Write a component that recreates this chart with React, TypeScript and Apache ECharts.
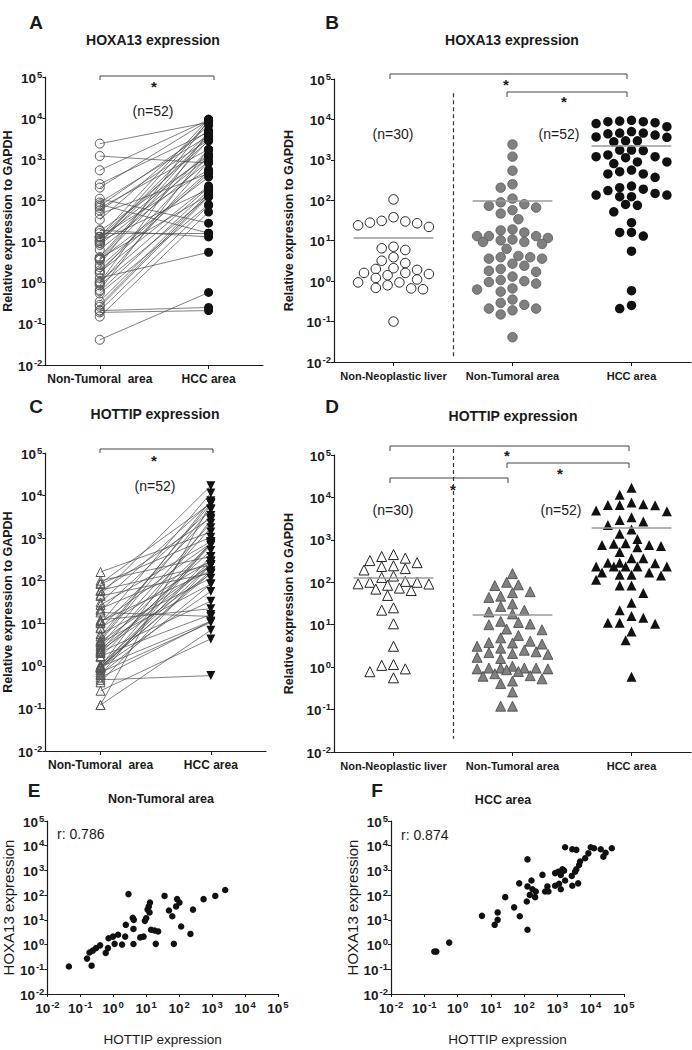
import React, { useEffect, useRef } from "react";
import * as echarts from "echarts";

// ---------------- data ----------------
const pairedCategories = ["Non-Tumoral  area", "HCC area"];
const tissueCategories = ["Non-Neoplastic liver", "Non-Tumoral area", "HCC area"];

// HOXA13 relative expression
const hoxaNonNeoplastic = [105, 31, 28, 24, 22, 27, 30, 38, 6.5, 7.1, 5.9, 3.9, 3.2, 2.8, 2.0, 1.6, 1.2, 1.5, 1.4, 1.6, 1.9, 2.1, 0.93, 0.79, 0.66, 0.63, 0.68, 0.93, 1.1, 0.1];
// paired: hoxaNonTumoral[i] <-> hoxaHcc[i]
const hoxaNonTumoral = [2400, 1200, 540, 250, 205, 110, 89, 80, 73, 66, 57, 47, 34, 19, 18, 16, 13, 13, 13, 11.7, 10.7, 10.2, 9.3, 9.3, 8.3, 6.3, 4.2, 3.9, 3.9, 3.6, 3.6, 2.7, 2.4, 2.0, 1.8, 1.7, 1.3, 1.06, 1.0, 0.95, 0.87, 0.66, 0.62, 0.55, 0.35, 0.29, 0.26, 0.21, 0.21, 0.19, 0.15, 0.041];
const hoxaHcc = [7900, 810, 9100, 4600, 8800, 28, 3700, 16, 5000, 1750, 2950, 450, 6600, 13, 1200, 16, 9500, 560, 2800, 1320, 4400, 188, 8300, 3600, 1130, 890, 4100, 2950, 135, 1700, 370, 8800, 510, 450, 225, 1200, 5.5, 205, 4600, 890, 123, 1750, 174, 79, 148, 135, 123, 75, 0.25, 0.21, 52, 0.58];
const hoxaMeans = [12, 100, 2200];

// HOTTIP relative expression
const hottipNonNeoplastic = [450, 370, 290, 235, 245, 325, 405, 195, 130, 210, 140, 92, 85, 100, 100, 105, 91, 69, 64, 73, 49, 25, 22, 10.5, 3.1, 1.15, 0.91, 0.56, 0.78, 1.1];
// paired: hottipNonTumoral[i] <-> hottipHcc[i]
const hottipNonTumoral = [160, 87, 84, 100, 47, 60, 57, 44, 31, 22, 27, 18, 20, 10, 11.3, 10.4, 12, 7.6, 7.9, 4.9, 5.6, 2.8, 3.7, 4.1, 3.5, 3.1, 2.3, 2.0, 2.1, 2.2, 2.5, 1.6, 1.7, 3.8, 1.05, 0.95, 0.95, 0.87, 0.95, 0.91, 0.95, 0.91, 0.7, 0.61, 0.63, 0.79, 0.47, 0.41, 0.53, 0.26, 0.12, 0.12];
const hottipHcc = [1400, 6600, 1050, 370, 17000, 235, 2950, 150, 6900, 280, 830, 14.5, 4700, 11500, 170, 760, 22, 3400, 290, 6500, 115, 720, 235, 7600, 84, 2250, 145, 515, 33, 1750, 235, 670, 16, 4900, 290, 150, 11.2, 810, 235, 56, 2700, 170, 10.5, 760, 84, 370, 0.59, 235, 11.2, 4.3, 6.9, 6600];
const hottipMeans = [130, 17, 1900];

// Correlation scatter: Non-Tumoral area
const ntScatterHottip = [0.045, 0.16, 0.22, 0.19, 0.24, 0.3, 0.4, 0.59, 0.69, 0.72, 0.98, 1.1, 1.4, 1.85, 2.3, 2.4, 2.9, 3.9, 4.2, 4.1, 4.1, 6.6, 8.3, 9.1, 10, 11, 12, 13, 12.6, 14, 18, 23, 19.5, 36, 49, 62, 69, 81, 87, 102, 115, 220, 263, 550, 1250, 2500];
const ntScatterHoxa = [0.13, 0.27, 0.14, 0.48, 0.57, 0.72, 0.93, 0.46, 0.72, 1.8, 2.1, 1.07, 2.5, 1.0, 2.1, 6.3, 110, 12, 10, 4.3, 1.05, 1.95, 2.1, 9.1, 11.7, 26, 35, 50, 20, 4.0, 3.7, 3.4, 1.07, 93, 24, 14, 1.07, 35, 69, 50, 5.4, 2.7, 26, 69, 93, 162];
// Correlation scatter: HCC area
const hccScatterHottip = [0.2, 0.23, 0.56, 5.4, 13, 16, 16, 27, 50, 71, 74, 120, 126, 126, 126, 148, 178, 166, 214, 224, 355, 427, 500, 537, 851, 1070, 851, 1120, 1260, 1260, 1410, 1700, 1700, 1580, 2700, 2800, 2800, 3700, 3400, 3700, 4200, 4470, 4790, 6800, 8500, 10000, 12600, 20000, 24000, 28000, 43000];
const hccScatterHoxa = [0.52, 0.52, 1.2, 14.5, 6.3, 10, 20, 83, 32, 300, 14, 55, 4.0, 2800, 225, 102, 174, 390, 83, 141, 660, 141, 225, 141, 780, 890, 240, 290, 174, 660, 1120, 390, 8700, 980, 600, 240, 7200, 6800, 890, 1120, 300, 1660, 2300, 3100, 4900, 8700, 7900, 7200, 3600, 5200, 7900];

const correlationLabels = ["r: 0.786", "r: 0.874"];
const sampleLabels = ["(n=30)", "(n=52)"];

// ---------------- layout ----------------
const font = "Liberation Sans, Arial, Helvetica, sans-serif";
const ink = "#1a1a1a";
const G = {
  A: { left: 45, top: 77, width: 218, height: 288 },
  B: { left: 334, top: 79, width: 357, height: 283 },
  C: { left: 45, top: 453, width: 221, height: 298 },
  D: { left: 334, top: 455, width: 357, height: 297 },
  E: { left: 46, top: 821, width: 232, height: 173 },
  F: { left: 391, top: 821, width: 233, height: 173 },
};
const sepB = { top: 4.65, bottom: -1.88 };
const sepD = { top: 5.14, bottom: -1.69 };

const lg = (v: number) => Math.log10(v);

// beeswarm: spread points of one group sideways so that they do not overlap
function swarm(values: number[], cat: number, g: { width: number; height: number }, step: number, minD: number, maxSteps: number) {
  const pxY = g.height / 7;
  const pxX = g.width / 3;
  const order = values.map((_, i) => i).sort((a, b) => values[b] - values[a]);
  const placed: [number, number][] = [];
  const res: number[][] = new Array(values.length);
  const cands: number[] = [0];
  for (let k = 1; k <= maxSteps * 2; k++) {
    cands.push(-k * 0.5, k * 0.5);
  }
  for (const i of order) {
    const y = lg(values[i]) * pxY;
    let chosen = 0;
    let best = -1;
    let found = false;
    for (const o of cands) {
      const ox = o * step;
      let md = Infinity;
      for (const [px, py] of placed) md = Math.min(md, Math.hypot(px - ox, py - y));
      if (md >= minD) {
        chosen = ox;
        found = true;
        break;
      }
      if (md > best) {
        best = md;
        chosen = ox;
      }
    }
    void found;
    placed.push([chosen, y]);
    res[i] = [cat + chosen / pxX, lg(values[i])];
  }
  return res;
}

const rich = {
  b: { fontSize: 13.5, fontWeight: "bold", fontFamily: font, color: ink, lineHeight: 16, verticalAlign: "bottom" },
  s: { fontSize: 9.5, fontWeight: "bold", fontFamily: font, color: ink, lineHeight: 10, verticalAlign: "top", padding: [0, 0, 0, 1] },
};
const powLabel = (v: number) => `{b|10}{s|${v}}`;

function yAxis(gridIndex: number, name: string, nameGap: number, nameStyle: any) {
  return {
    type: "value",
    gridIndex,
    min: -2,
    max: 5,
    interval: 1,
    axisLine: { show: true, onZero: false, lineStyle: { color: ink, width: 1.2 } },
    axisTick: { show: true, length: 3, lineStyle: { color: ink } },
    splitLine: { show: false },
    axisLabel: { margin: 3, formatter: powLabel, rich },
    name,
    nameLocation: "middle",
    nameGap,
    nameTextStyle: { fontFamily: font, color: ink, ...nameStyle },
  };
}

function catAxis(gridIndex: number, data: string[], fontSize: number) {
  return {
    type: "category",
    gridIndex,
    data,
    position: "bottom",
    boundaryGap: true,
    axisLine: { show: true, onZero: false, lineStyle: { color: ink, width: 1.2 } },
    axisTick: { show: true, alignWithLabel: true, length: 4, lineStyle: { color: ink } },
    splitLine: { show: false },
    axisLabel: { interval: 0, margin: 8, fontSize, fontWeight: "bold", fontFamily: font, color: ink },
  };
}

function logXAxis(gridIndex: number) {
  return {
    type: "value",
    gridIndex,
    min: -2,
    max: 5,
    interval: 1,
    axisLine: { show: true, onZero: false, lineStyle: { color: ink, width: 1.2 } },
    axisTick: { show: true, length: 3, lineStyle: { color: ink } },
    splitLine: { show: false },
    axisLabel: { margin: 5, formatter: powLabel, rich },
    name: "HOTTIP expression",
    nameLocation: "middle",
    nameGap: 38,
    nameTextStyle: { fontFamily: font, color: ink, fontSize: 13.5 },
  };
}

const hiddenX = (gridIndex: number) => ({ type: "value", gridIndex, min: -0.5, max: 2.5, show: false });

function pairLines(a: number[], b: number[]) {
  return a.map((v, i) => ({ coords: [[0, lg(v)], [1, lg(b[i])]] }));
}
function meanLines(m: number[]) {
  return m.map((v, i) => ({ coords: [[i - 0.335, lg(v)], [i + 0.335, lg(v)]] }));
}

function txt(text: string, x: number, y: number, size: number, weight: string, align = "center") {
  return {
    type: "text",
    x,
    y,
    silent: true,
    style: {
      text,
      fontSize: size,
      fontWeight: weight,
      fontFamily: font,
      fill: ink,
      align,
      textAlign: align,
      verticalAlign: "middle",
      textVerticalAlign: "middle",
    },
  };
}
function bracket(x1: number, x2: number, y: number, drop = 5) {
  return {
    type: "polyline",
    silent: true,
    shape: { points: [[x1, y + drop], [x1, y], [x2, y], [x2, y + drop]] },
    style: { stroke: "#444", lineWidth: 1, fill: null },
  };
}
const star = (x: number, y: number) => txt("*", x, y + 3, 15, "bold");

export default function App() {
  const ref = useRef<HTMLDivElement>(null);
  useEffect(() => {
    if (!ref.current) return;
    const chart = echarts.init(ref.current, undefined, { renderer: "svg" });

    const yName = "Relative expression to GAPDH";
    const yNameStyle = { fontSize: 12.5, fontWeight: "bold" };
    const solid = (c: string, extra: any = {}) => ({ color: c, opacity: 1, ...extra });

    const option: any = {
      animation: false,
      backgroundColor: "#ffffff",
      textStyle: { fontFamily: font },
      grid: [G.A, G.B, G.C, G.D, G.E, G.F].map((g) => ({ ...g, containLabel: false })),
      xAxis: [
        catAxis(0, pairedCategories, 12),
        catAxis(1, tissueCategories, 11),
        hiddenX(1),
        catAxis(2, pairedCategories, 12),
        catAxis(3, tissueCategories, 11),
        hiddenX(3),
        logXAxis(4),
        logXAxis(5),
      ],
      yAxis: [
        yAxis(0, yName, 27, yNameStyle),
        yAxis(1, yName, 27, yNameStyle),
        yAxis(2, yName, 27, yNameStyle),
        yAxis(3, yName, 27, yNameStyle),
        yAxis(4, "HOXA13 expression", 28, { fontSize: 15 }),
        yAxis(5, "HOXA13 expression", 28, { fontSize: 15 }),
      ],
      series: [
        // ---- A ----
        {
          type: "lines", coordinateSystem: "cartesian2d", xAxisIndex: 0, yAxisIndex: 0, silent: true, z: 2,
          data: pairLines(hoxaNonTumoral, hoxaHcc),
          lineStyle: { color: "#4a4a4a", width: 0.7, opacity: 1 },
        },
        {
          type: "scatter", xAxisIndex: 0, yAxisIndex: 0, z: 3, symbol: "circle", symbolSize: 9,
          data: hoxaNonTumoral.map((v) => [0, lg(v)]),
          itemStyle: solid("rgba(255,255,255,0)", { borderColor: "#555", borderWidth: 1 }),
        },
        {
          type: "scatter", xAxisIndex: 0, yAxisIndex: 0, z: 3, symbol: "circle", symbolSize: 9,
          data: hoxaHcc.map((v) => [1, lg(v)]),
          itemStyle: solid("#111"),
        },
        // ---- B ----
        {
          type: "lines", coordinateSystem: "cartesian2d", xAxisIndex: 2, yAxisIndex: 1, silent: true, clip: false, z: 2,
          data: [{ coords: [[0.5, sepB.top], [0.5, sepB.bottom]] }],
          lineStyle: { color: "#333", width: 1.2, type: [4, 3], opacity: 1 },
        },
        {
          type: "scatter", xAxisIndex: 2, yAxisIndex: 1, z: 3, symbol: "circle", symbolSize: 9.5,
          data: swarm(hoxaNonNeoplastic, 0, G.B, 11.8, 9.6, 3),
          itemStyle: solid("#fff", { borderColor: "#222", borderWidth: 1 }),
        },
        {
          type: "scatter", xAxisIndex: 2, yAxisIndex: 1, z: 3, symbol: "circle", symbolSize: 9.5,
          data: swarm(hoxaNonTumoral, 1, G.B, 11.8, 9.6, 3),
          itemStyle: solid("#808080", { borderColor: "#555", borderWidth: 0.8 }),
        },
        {
          type: "scatter", xAxisIndex: 2, yAxisIndex: 1, z: 3, symbol: "circle", symbolSize: 9.5,
          data: swarm(hoxaHcc, 2, G.B, 11.8, 9.6, 3),
          itemStyle: solid("#111"),
        },
        {
          type: "lines", coordinateSystem: "cartesian2d", xAxisIndex: 2, yAxisIndex: 1, silent: true, z: 4,
          data: meanLines(hoxaMeans),
          lineStyle: { color: "#9a9a9a", width: 1.5, opacity: 1 },
        },
        // ---- C ----
        {
          type: "lines", coordinateSystem: "cartesian2d", xAxisIndex: 3, yAxisIndex: 2, silent: true, z: 2,
          data: pairLines(hottipNonTumoral, hottipHcc),
          lineStyle: { color: "#4a4a4a", width: 0.7, opacity: 1 },
        },
        {
          type: "scatter", xAxisIndex: 3, yAxisIndex: 2, z: 3, symbol: "triangle", symbolSize: 9,
          data: hottipNonTumoral.map((v) => [0, lg(v)]),
          itemStyle: solid("rgba(255,255,255,0)", { borderColor: "#555", borderWidth: 1 }),
        },
        {
          type: "scatter", xAxisIndex: 3, yAxisIndex: 2, z: 3, symbol: "triangle", symbolRotate: 180, symbolSize: 9,
          data: hottipHcc.map((v) => [1, lg(v)]),
          itemStyle: solid("#111"),
        },
        // ---- D ----
        {
          type: "lines", coordinateSystem: "cartesian2d", xAxisIndex: 5, yAxisIndex: 3, silent: true, clip: false, z: 2,
          data: [{ coords: [[0.5, sepD.top], [0.5, sepD.bottom]] }],
          lineStyle: { color: "#333", width: 1.2, type: [4, 3], opacity: 1 },
        },
        {
          type: "scatter", xAxisIndex: 5, yAxisIndex: 3, z: 3, symbol: "triangle", symbolSize: 10,
          data: swarm(hottipNonNeoplastic, 0, G.D, 11.8, 9.6, 3),
          itemStyle: solid("#fff", { borderColor: "#222", borderWidth: 1 }),
        },
        {
          type: "scatter", xAxisIndex: 5, yAxisIndex: 3, z: 3, symbol: "triangle", symbolSize: 10,
          data: swarm(hottipNonTumoral, 1, G.D, 11.8, 9.6, 3),
          itemStyle: solid("#808080", { borderColor: "#444", borderWidth: 0.8 }),
        },
        {
          type: "scatter", xAxisIndex: 5, yAxisIndex: 3, z: 3, symbol: "triangle", symbolSize: 10,
          data: swarm(hottipHcc, 2, G.D, 11.8, 9.6, 3),
          itemStyle: solid("#111"),
        },
        {
          type: "lines", coordinateSystem: "cartesian2d", xAxisIndex: 5, yAxisIndex: 3, silent: true, z: 4,
          data: meanLines(hottipMeans),
          lineStyle: { color: "#9a9a9a", width: 1.5, opacity: 1 },
        },
        // ---- E ----
        {
          type: "scatter", xAxisIndex: 6, yAxisIndex: 4, symbol: "circle", symbolSize: 6.5,
          data: ntScatterHottip.map((x, i) => [lg(x), lg(ntScatterHoxa[i])]),
          itemStyle: solid("#111"),
        },
        // ---- F ----
        {
          type: "scatter", xAxisIndex: 7, yAxisIndex: 5, symbol: "circle", symbolSize: 6.5,
          data: hccScatterHottip.map((x, i) => [lg(x), lg(hccScatterHoxa[i])]),
          itemStyle: solid("#111"),
        },
      ],
      graphic: [
        // panel letters
        txt("A", 36, 22, 19, "bold"),
        txt("B", 332, 22, 19, "bold"),
        txt("C", 36, 406, 19, "bold"),
        txt("D", 332, 406, 19, "bold"),
        txt("E", 34, 790, 19, "bold"),
        txt("F", 377, 790, 19, "bold"),
        // titles
        txt("HOXA13 expression", 153, 40, 14, "bold"),
        txt("HOXA13 expression", 512, 40, 14, "bold"),
        txt("HOTTIP expression", 155, 414, 14, "bold"),
        txt("HOTTIP expression", 513, 416, 14, "bold"),
        txt("Non-Tumoral area", 161, 799, 12.5, "bold"),
        txt("HCC area", 503, 800, 12.5, "bold"),
        // sample sizes
        txt(sampleLabels[1], 153, 111, 14, "normal"),
        txt(sampleLabels[1], 155, 486, 14, "normal"),
        txt(sampleLabels[0], 393, 134, 14, "normal"),
        txt(sampleLabels[1], 559, 134, 14, "normal"),
        txt(sampleLabels[0], 393, 510, 14, "normal"),
        txt(sampleLabels[1], 561, 510, 14, "normal"),
        // significance brackets
        bracket(100, 214, 76, 4),
        star(154, 83),
        bracket(100, 213, 449, 4),
        star(154, 457),
        bracket(390, 627, 74),
        star(506, 81),
        bracket(507, 627, 92),
        star(564, 98),
        bracket(390, 629, 446),
        star(507, 452),
        bracket(507, 629, 463),
        star(560, 470),
        bracket(390, 508, 478),
        star(453, 486),
        // correlations
        txt(correlationLabels[0], 57, 834, 14, "normal", "left"),
        txt(correlationLabels[1], 401, 835, 14, "normal", "left"),
      ],
    };
    chart.setOption(option);
    return () => chart.dispose();
  }, []);
  return (
    <div
      ref={ref}
      style={{ position: "absolute", left: 0, top: 0, width: 692, height: 1050, background: "#fff" }}
    />
  );
}
